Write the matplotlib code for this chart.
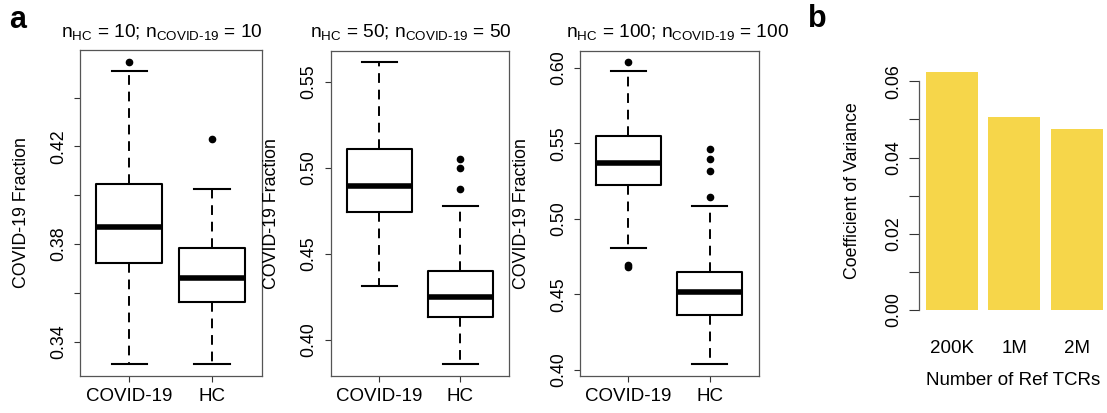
import matplotlib
matplotlib.use("Agg")
import matplotlib.pyplot as plt
import numpy as np

plt.rcParams['font.family'] = ['Liberation Sans', 'DejaVu Sans']
plt.rcParams['mathtext.fontset'] = 'custom'
plt.rcParams['mathtext.rm'] = 'Liberation Sans'
plt.rcParams['font.size'] = 12.8

# --- data ---
groups = ['COVID-19', 'HC']
n_sizes = [10, 50, 100]

# box stats per panel: [COVID-19, HC] -> (whislo, q1, med, q3, whishi)
whislo = [[0.331, 0.331], [0.431, 0.386], [0.481, 0.404]]
q1 = [[0.3724, 0.3563], [0.4744, 0.4130], [0.5226, 0.4364]]
med = [[0.3869, 0.3660], [0.4894, 0.4250], [0.5371, 0.4518]]
q3 = [[0.4046, 0.3783], [0.5109, 0.4401], [0.5546, 0.4650]]
whishi = [[0.4509, 0.4027], [0.5615, 0.4776], [0.5978, 0.5087]]
fliers = [
    [[0.4546], [0.4229]],
    [[], [0.4874, 0.4997, 0.5049]],
    [[0.6037, 0.4694, 0.4683], [0.5146, 0.5316, 0.5396, 0.5462]],
]

ylims = [(0.3259, 0.4595), (0.3789, 0.568), (0.396, 0.6112)]
major_ticks = [[0.34, 0.38, 0.42], [0.40, 0.45, 0.50, 0.55], [0.40, 0.45, 0.50, 0.55, 0.60]]
minor_ticks = [[0.36, 0.40, 0.44], [], []]

ref_sizes = ['200K', '1M', '2M']
cov = [0.0625, 0.0506, 0.0474]

W, H = 1107, 413
fig = plt.figure(figsize=(W / 100, H / 100), dpi=100)


def frac(x0, y0, x1, y1):
    return [x0 / W, 1 - y1 / H, (x1 - x0) / W, (y1 - y0) / H]


boxes_px = [(80, 50, 262, 376), (330.7, 50.7, 509.3, 376), (580, 50.7, 759, 376)]
label_x = [-0.275, -0.284, -0.279]
title_x = [0.449, 0.449, 0.545]

for i in range(3):
    ax = fig.add_axes(frac(*boxes_px[i]))
    stats = []
    for j in range(2):
        stats.append(dict(whislo=whislo[i][j], q1=q1[i][j], med=med[i][j],
                          q3=q3[i][j], whishi=whishi[i][j], fliers=fliers[i][j]))
    ax.bxp(stats, positions=[1, 2], widths=0.8, capwidths=0.43,
           boxprops=dict(color='black', linewidth=1.5),
           medianprops=dict(color='black', linewidth=4),
           whiskerprops=dict(color='black', linewidth=1.4, linestyle=(0, (5, 3.5))),
           capprops=dict(color='black', linewidth=1.5),
           flierprops=dict(marker='o', markerfacecolor='black', markeredgecolor='black',
                           markersize=4.5, linestyle='none'))
    ax.set_xlim(0.404, 2.605)
    ax.set_ylim(*ylims[i])
    ax.set_xticks([1, 2])
    ax.set_xticklabels(groups, fontsize=13.5)
    ax.set_yticks(major_ticks[i])
    ax.set_yticklabels(['%.2f' % t for t in major_ticks[i]])
    ax.set_yticks(minor_ticks[i], minor=True)
    ax.tick_params(axis='both', which='both', direction='out', length=4.5, width=0.8,
                   color='#333333')
    ax.tick_params(axis='y', labelrotation=90, pad=5)
    ax.tick_params(axis='x', pad=4)
    for lab in ax.get_yticklabels():
        lab.set_va('center')
    for sp in ax.spines.values():
        sp.set_color('#555555')
        sp.set_linewidth(0.9)
    ax.set_ylabel('COVID-19 Fraction')
    ax.yaxis.set_label_coords(label_x[i], 0.5)
    n = n_sizes[i]
    ax.set_title(r'n$_\text{HC}$ = %d; n$_\text{COVID-19}$ = %d' % (n, n),
                 fontsize=13.8, pad=9, x=title_x[i])

# panel b
axb = fig.add_axes(frac(919, 62, 1107, 319))
xpos = 0.7 + 1.2 * np.arange(len(cov))
axb.bar(xpos, cov, width=1.0, color='#F6D64A')
axb.set_xlim(0.064, 0.064 + 188 / 52)
axb.set_ylim(-0.00244, 0.0651)
for s in ['top', 'right', 'bottom']:
    axb.spines[s].set_visible(False)
axb.spines['left'].set_bounds(0, 0.06)
axb.spines['left'].set_color('#555555')
axb.spines['left'].set_linewidth(0.9)
axb.set_yticks([0.00, 0.02, 0.04, 0.06])
axb.set_yticklabels(['0.00', '0.02', '0.04', '0.06'])
axb.set_yticks([0.01, 0.03, 0.05], minor=True)
axb.tick_params(axis='y', which='both', direction='out', length=7, width=0.8,
                color='#333333', labelrotation=90, pad=5)
for lab in axb.get_yticklabels():
    lab.set_va('center')
axb.set_xticks(xpos)
axb.set_xticklabels(ref_sizes, fontsize=13.5)
axb.tick_params(axis='x', length=0, pad=15)
axb.set_ylabel('Coefficient of Variance')
axb.yaxis.set_label_coords(-0.31, 0.5)
axb.set_xlabel('Number of Ref TCRs', fontsize=13.5, labelpad=11)

fig.text(9 / W, 1 - 28 / H, 'a', fontsize=22, fontweight='bold')
fig.text(808 / W, 1 - 27 / H, 'b', fontsize=22, fontweight='bold')

fig.savefig('out.png', dpi=100)
